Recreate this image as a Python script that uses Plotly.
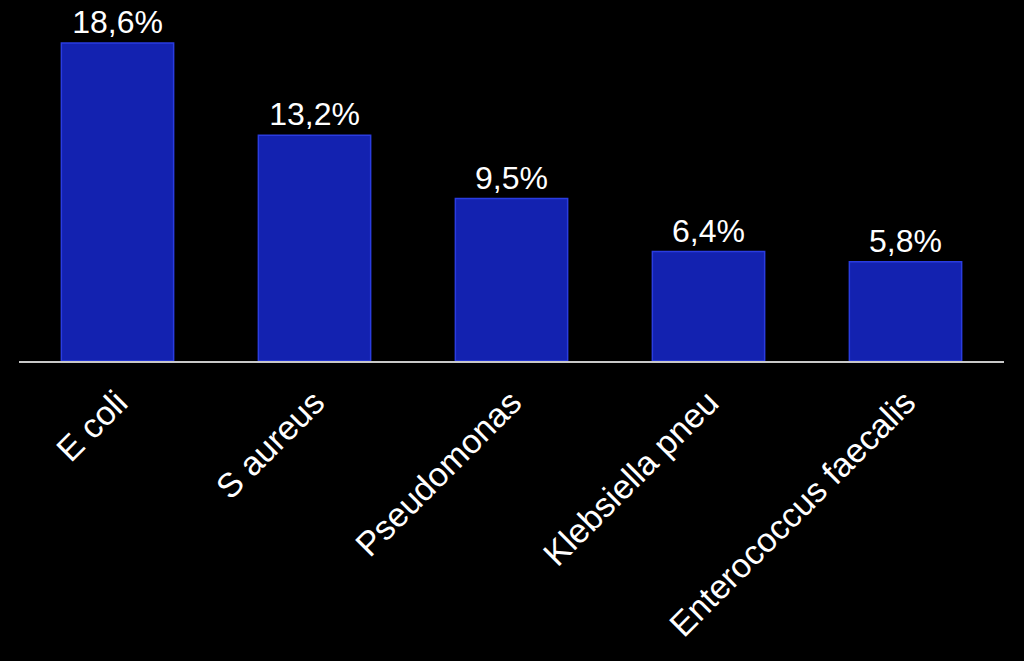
import plotly.graph_objects as go

categories = ["E coli", "S aureus", "Pseudomonas", "Klebsiella pneu", "Enterococcus faecalis"]
values = [18.6, 13.2, 9.5, 6.4, 5.8]
labels = ["18,6%", "13,2%", "9,5%", "6,4%", "5,8%"]

fig = go.Figure()
fig.add_trace(go.Bar(
    x=categories, y=values, text=labels, textposition="outside",
    textfont=dict(family="Liberation Sans, Arial", size=32, color="white"),
    marker=dict(color="#1322b0", line=dict(color="#2a3ce0", width=1.5)),
    width=0.57, cliponaxis=False,
))
fig.update_layout(
    width=1024, height=661,
    paper_bgcolor="black", plot_bgcolor="black",
    margin=dict(l=19, r=20, t=0, b=300),
    showlegend=False,
    bargap=0.43,
    xaxis=dict(showline=True, linecolor="#c8c8c8", linewidth=2, tickangle=-45,
               tickfont=dict(family="Liberation Sans, Arial", size=34, color="white"),
               showgrid=False, ticks="", ticklabelstandoff=6),
    yaxis=dict(range=[0, 21.11], visible=False, showgrid=False, zeroline=False),
)
fig.write_html("out.html")
